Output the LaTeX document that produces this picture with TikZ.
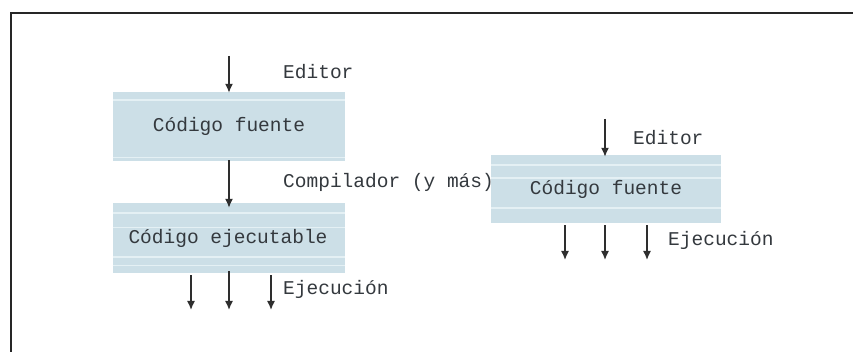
\documentclass[tikz,border=0pt]{standalone}
\usepackage{fontspec}
\setmonofont{Liberation Mono}
\usetikzlibrary{arrows.meta}
\definecolor{boxfill}{HTML}{CCDFE7}
\definecolor{stripe}{HTML}{E4F0F4}
\definecolor{txt}{HTML}{34393E}
\definecolor{arrowc}{HTML}{2E2E2E}
\tikzset{
  codebox/.style={rectangle, fill=boxfill, draw=none, minimum width=232pt, inner sep=0pt,
    font=\ttfamily\fontsize{19.5}{22}\selectfont, text=txt},
  lbl/.style={anchor=west, inner sep=0pt, font=\ttfamily\fontsize{19.5}{22}\selectfont, text=txt},
  flow/.style={draw=arrowc, line width=1.5pt, -{Latex[length=9pt,width=8pt]}},
  stripeline/.style={draw=stripe, line width=2pt},
  frameline/.style={draw=black!85, line width=2.5pt}
}
\begin{document}
\begin{tikzpicture}[x=1pt,y=-1pt]
\useasboundingbox (0,0) rectangle (853,352);
\fill[white] (0,0) rectangle (853,352);
\draw[frameline] (11,352) -- (11,13) -- (853,13);

% boxes
\node[codebox, minimum height=69pt] (b1) at (229,126.5) {};
\node[codebox, minimum height=70pt] (b2) at (229,238) {};
\node[codebox, minimum width=230pt, minimum height=68pt] (b3) at (606,189) {};

% stripes
\draw[stripeline] ([yshift=-8pt]b1.north west) -- ([yshift=-8pt]b1.north east);
\draw[stripeline, line width=1pt] ([yshift=4pt]b1.south west) -- ([yshift=4pt]b1.south east);
\draw[stripeline] ([yshift=-10pt]b2.north west) -- ([yshift=-10pt]b2.north east);
\draw[stripeline, line width=1pt] ([yshift=-25pt]b2.north west) -- ([yshift=-25pt]b2.north east);
\draw[stripeline] ([yshift=16pt]b2.south west) -- ([yshift=16pt]b2.south east);
\draw[stripeline, line width=1pt] ([yshift=8pt]b2.south west) -- ([yshift=8pt]b2.south east);
\draw[stripeline] ([yshift=-10pt]b3.north west) -- ([yshift=-10pt]b3.north east);
\draw[stripeline] ([yshift=-23pt]b3.north west) -- ([yshift=-23pt]b3.north east);
\draw[stripeline] ([yshift=15pt]b3.south west) -- ([yshift=15pt]b3.south east);
\node[codebox, fill=none, minimum height=69pt] (t1) at (b1.center) {Código fuente};
\node[codebox, fill=none, minimum height=70pt] (t2) at ([xshift=-1pt]b2.center) {Código ejecutable};
\node[codebox, fill=none, minimum width=230pt, minimum height=68pt] (t3) at (b3.center) {Código fuente};

% labels
\node[lbl] (ed1) at (283,72) {Editor};
\node[lbl] (comp) at (283,182) {Compilador (y más)};
\node[lbl] (ej1) at (283,289) {Ejecución};
\node[lbl] (ed2) at (633,138) {Editor};
\node[lbl] (ej2) at (668,240) {Ejecución};

% arrow ends
\coordinate (s1) at (229,56);
\coordinate (a1) at (191,310);
\coordinate (a2) at (229,310);
\coordinate (a3) at (271,310);
\coordinate (s2) at (605,119);
\coordinate (c1) at (565,260);
\coordinate (c2) at (605,260);
\coordinate (c3) at (647,260);

\draw[flow] (s1) -- ([yshift=-1pt]b1.north);
\draw[flow] ([yshift=1pt]b1.south) -- ([yshift=-5pt]b2.north);
\draw[flow] (a1 |- b2.south) ++(0,2) -- (a1);
\draw[flow] ([yshift=2pt]b2.south) -- (a2);
\draw[flow] (a3 |- b2.south) ++(0,2) -- (a3);
\draw[flow] (s2) -- ([yshift=-2pt]b3.north -| s2);
\draw[flow] (c1 |- b3.south) ++(0,2) -- (c1);
\draw[flow] (c2 |- b3.south) ++(0,2) -- (c2);
\draw[flow] (c3 |- b3.south) ++(0,2) -- (c3);
\end{tikzpicture}
\end{document}
